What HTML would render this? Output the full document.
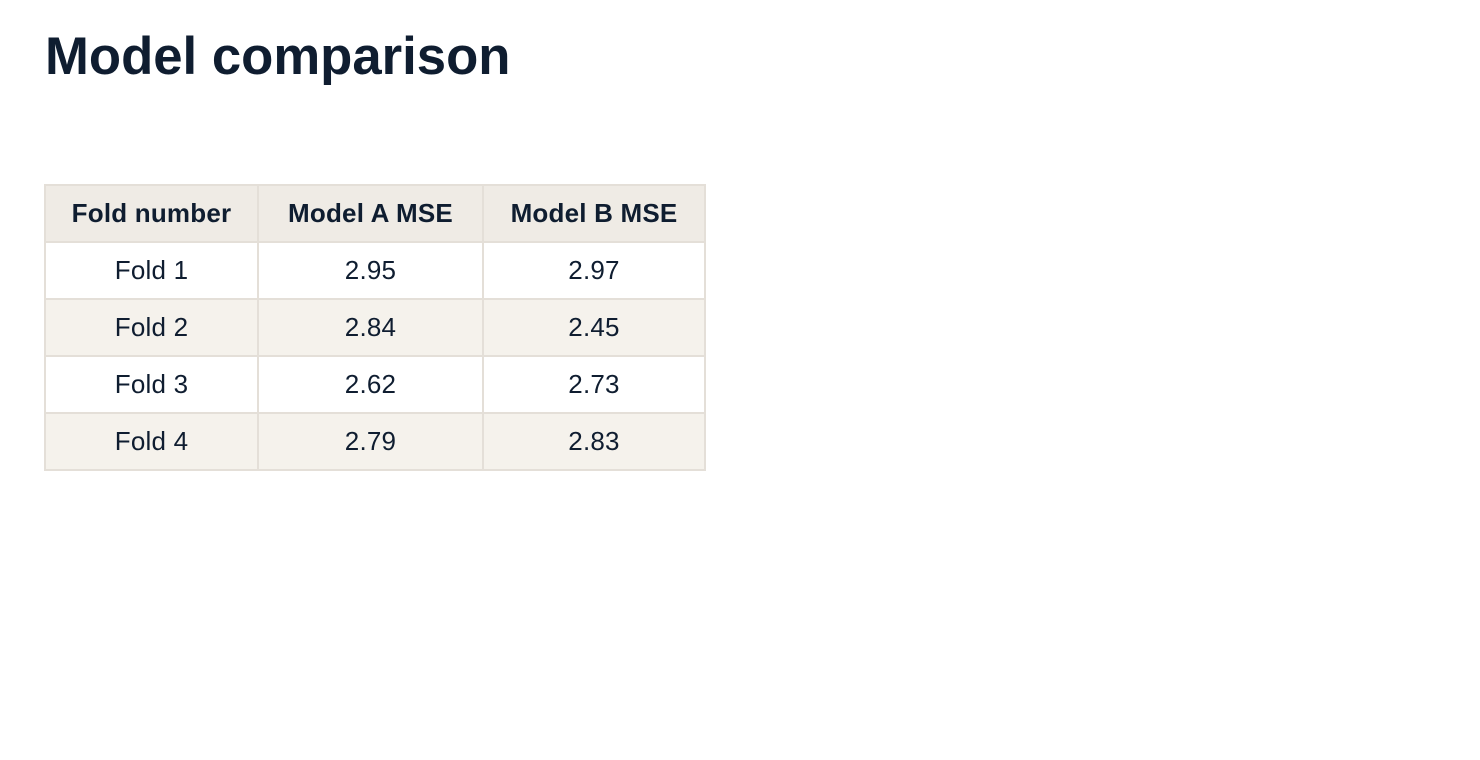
<!DOCTYPE html>
<html><head><meta charset="utf-8"><style>
body{margin:0;width:1480px;height:760px;background:#fff;font-family:"Liberation Sans",sans-serif;color:#0f1d30;position:relative;overflow:hidden}
h1{position:absolute;left:45px;top:27px;margin:0;font-size:52.7px;font-weight:bold;letter-spacing:0;line-height:60px}
table{position:absolute;left:44px;top:184px;border-collapse:collapse;table-layout:fixed;width:660px}
td,th{border:2px solid #e4dfd8;height:55px;box-sizing:border-box;padding:0;text-align:center;font-size:26px;letter-spacing:0.2px}
tr{height:57px}
th{background:#efebe5;font-weight:bold;font-size:26px}
tr.alt td{background:#f5f2ec}
</style></head><body>
<h1>Model comparison</h1>
<table>
<colgroup><col style="width:213px"><col style="width:225px"><col style="width:222px"></colgroup>
<tr><th>Fold number</th><th>Model A MSE</th><th>Model B MSE</th></tr>
<tr><td>Fold 1</td><td>2.95</td><td>2.97</td></tr>
<tr class="alt"><td>Fold 2</td><td>2.84</td><td>2.45</td></tr>
<tr><td>Fold 3</td><td>2.62</td><td>2.73</td></tr>
<tr class="alt"><td>Fold 4</td><td>2.79</td><td>2.83</td></tr>
</table>
</body></html>
